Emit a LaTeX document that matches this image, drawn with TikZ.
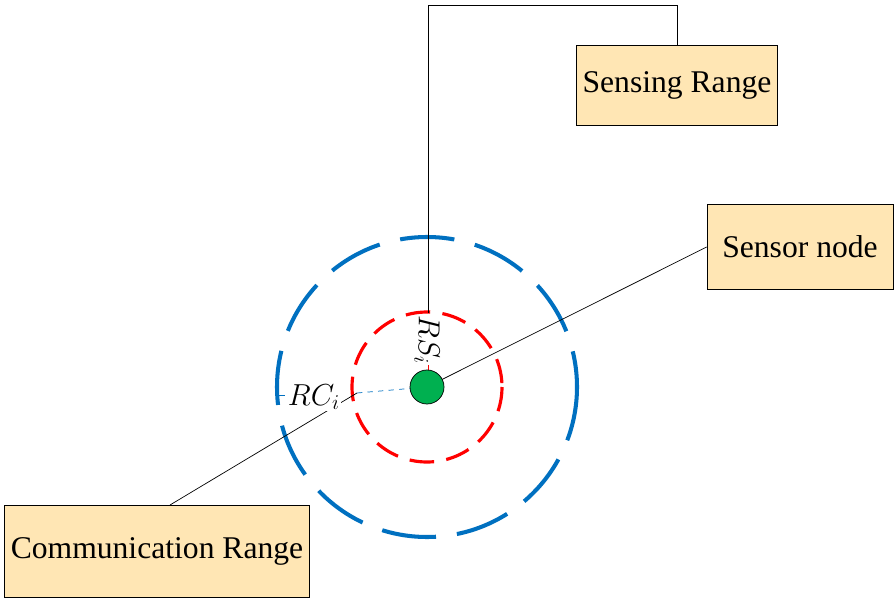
\documentclass[tikz,border=0pt]{standalone}
\usepackage{fontspec}
\setmainfont{Liberation Serif}
\usetikzlibrary{calc}
\definecolor{boxfill}{RGB}{255,230,180}
\definecolor{ccblue}{RGB}{0,112,192}
\definecolor{scgreen}{RGB}{0,176,80}
\tikzset{
  label box/.style={draw,fill=boxfill,inner sep=0pt,font=\fontsize{18}{20}\selectfont},
  comm ring/.style={ccblue,line width=2.3pt,dash pattern=on 31pt off 12pt},
  sense ring/.style={red,line width=1.8pt,dash pattern=on 14pt off 7pt},
}
\begin{document}
\begin{tikzpicture}[x=0.02cm,y=-0.02cm]
  \useasboundingbox (0,0) rectangle (896,601);
  \coordinate (O) at (427,387);
  % rings
  \draw[comm ring] (O) circle[radius=150];
  \draw[sense ring] (O) circle[radius=75];
  % boxes
  \node[label box,minimum width=201*0.02cm,minimum height=80*0.02cm] (sense) at (677,85) {Sensing Range};
  \node[label box,minimum width=186*0.02cm,minimum height=85*0.02cm] (node) at (800,247) {Sensor node};
  \node[label box,minimum width=305*0.02cm,minimum height=92*0.02cm] (comm) at (157,551) {Communication Range};
  % connectors
  \coordinate (stop) at (428,313);
  \draw (sense.north) |- (428,5) -- (stop);
  \draw (node.west) -- (O);
  \coordinate (cend) at (357,393);
  \draw (170,505) -- (cend);
  \draw[red,thin] (428,360) -- (428,370);
  \draw[ccblue,dashed,thin] (cend) -- (O);
  \draw[ccblue,thin] (277,395) -- (285,395);
  % sensor
  \node[circle,draw,fill=scgreen,minimum size=34*0.02cm,inner sep=0pt] (sensor) at (O) {};
  \node[rotate=-90,font=\fontsize{18}{20}\selectfont,fill=white,inner sep=0.5pt] (rs) at (427,340) {$RS_i$};
  \node[font=\fontsize{18}{20}\selectfont,fill=white,inner sep=0.5pt] (rc) at (314,397) {$RC_i$};
\end{tikzpicture}
\end{document}
